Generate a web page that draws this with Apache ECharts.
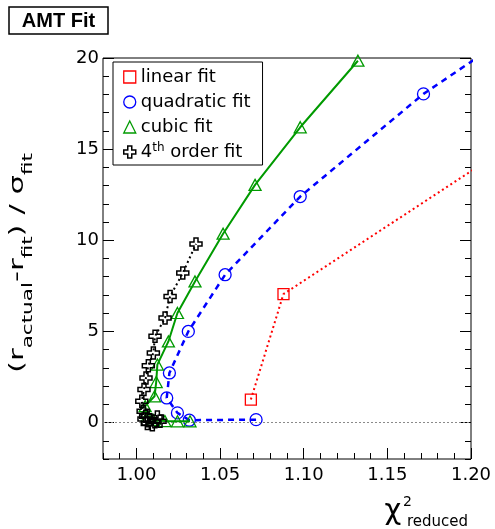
<!DOCTYPE html>
<html><head><meta charset="utf-8">
<script src="https://cdn.jsdelivr.net/npm/echarts@6/dist/echarts.min.js"></script>
<style>html,body{margin:0;padding:0;background:#fff}#c{width:495px;height:529px}</style>
</head><body><div id="c"></div>
<script>
// ---- data ----
const linearX = [1.0684, 1.0879, 1.2700];
const linearY = [1.26, 7.05, 18.0];
const quadX = [1.0715, 1.0316, 1.0245, 1.0181, 1.0197, 1.0310, 1.0530, 1.0979, 1.1716, 1.2500];
const quadY = [0.16, 0.13, 0.53, 1.35, 2.72, 5.00, 8.11, 12.40, 18.03, 22.9];
const cubicX = [1.0320, 1.0245, 1.0170, 1.0100, 1.0065, 1.0052, 1.0108, 1.0118, 1.0125, 1.0191, 1.0245, 1.0350, 1.0518, 1.0709, 1.0979, 1.1324];
const cubicY = [0.07, 0.07, 0.08, 0.15, 0.35, 0.90, 1.44, 2.22, 3.18, 4.45, 6.01, 7.74, 10.36, 13.04, 16.20, 19.85];
const quartX = [1.0141, 1.0125, 1.0110, 1.0095, 1.0080, 1.0065, 1.0055, 1.0045, 1.0040, 1.0032, 1.0045, 1.0057, 1.0071, 1.0101, 1.0111, 1.0171, 1.0201, 1.0277, 1.0356];
const quartY = [0.07, 0.30, 0.05, -0.12, 0.15, -0.05, 0.35, 0.20, 0.62, 1.17, 1.81, 2.45, 3.12, 3.82, 4.73, 5.74, 6.92, 8.20, 9.80];
const seriesNames = ['linear fit', 'quadratic fit', 'cubic fit', '4th order fit'];
const xMajorTicks = [1.00, 1.05, 1.10, 1.15, 1.20];
const xMinorTicks = [0.98, 0.99, 1.00, 1.01, 1.02, 1.03, 1.04, 1.05, 1.06, 1.07, 1.08, 1.09, 1.10, 1.11, 1.12, 1.13, 1.14, 1.15, 1.16, 1.17, 1.18, 1.19, 1.20];
const yMajorTicks = [0, 5, 10, 15, 20];
const yMinorTicks = [-2, -1, 0, 1, 2, 3, 4, 5, 6, 7, 8, 9, 10, 11, 12, 13, 14, 15, 16, 17, 18, 19, 20];
const titleText = 'AMT Fit';

// ---- styling ----
const FONT = '"DejaVu Sans", sans-serif';
const RED = '#ff0000', BLUE = '#0000ff', GREEN = '#009a00', BLACK = '#000000';
const CROSS = 'path://M4,0 L8,0 L8,4 L12,4 L12,8 L8,8 L8,12 L4,12 L4,8 L0,8 L0,4 L4,4 Z';

function zip(xs, ys) { return xs.map((x, i) => [x, ys[i]]); }

const chart = echarts.init(document.getElementById('c'), null, {renderer: 'canvas'});

function xAx(extra) {
  return Object.assign({type: 'value', min: 0.98, max: 1.20, position: 'bottom',
    axisLine: {show: false, onZero: false}, splitLine: {show: false},
    axisLabel: {show: false}, axisTick: {show: false}}, extra);
}
function yAx(pos, extra) {
  return Object.assign({type: 'value', min: -2, max: 20, position: pos,
    axisLine: {show: false, onZero: false}, splitLine: {show: false},
    axisLabel: {show: false}, axisTick: {show: false}}, extra);
}
const tickLine = {color: '#000', width: 1};

function lineSeries(name, xs, ys, symbol, size, color, lType, lWidth, z, bw) {
  return {
    name, type: 'line', data: zip(xs, ys), xAxisIndex: 0, yAxisIndex: 0,
    symbol, symbolSize: size, showSymbol: true, showAllSymbol: true,
    itemStyle: {color: 'rgba(0,0,0,0)', borderColor: color, borderWidth: bw},
    lineStyle: {color, type: lType, width: lWidth},
    clip: true, animation: false, silent: true, z
  };
}

const series = [
  lineSeries(seriesNames[0], linearX, linearY, 'rect', 11, RED, [2, 3], 2, 3, 1.3),
  lineSeries(seriesNames[1], quadX, quadY, 'circle', 12, BLUE, [6, 5], 2.5, 4, 1.3),
  lineSeries(seriesNames[2], cubicX, cubicY, 'triangle', [12, 11], GREEN, 'solid', 2, 5, 1.3),
  lineSeries(seriesNames[3], quartX, quartY, CROSS, 12, BLACK, [2, 3], 2, 6, 1.5)
];
series[0].markLine = {
  silent: true, symbol: ['none', 'none'], label: {show: false}, animation: false,
  lineStyle: {color: '#8a8a8a', type: [2, 2], width: 1.2},
  data: [{yAxis: 0}]
};

// text width helper for composed titles
const mctx = document.createElement('canvas').getContext('2d');
function tw(t, size) { mctx.font = size + 'px "DejaVu Sans"'; return mctx.measureText(t).width; }

// y-axis title pieces: main / subscript
const yParts = [['(r', 0], ['actual', 1], ['-r', 0], ['fit', 1], [') / \u03c3', 0], ['fit', 1]];
const MAIN = 20, SUB = 14;
let cx = 0;
const yChildren = yParts.map(([t, sub]) => {
  const s = sub ? SUB : MAIN;
  const el = {type: 'text', x: cx, y: sub ? 8 - 0.35 * SUB : -0.35 * MAIN,
    style: {text: t, fontSize: s, fontFamily: FONT, fill: '#000', align: 'left', verticalAlign: 'middle'}};
  cx += tw(t, s);
  return el;
});
const yScale = 220 / cx;

const option = {
  backgroundColor: '#fff',
  animation: false,
  grid: {left: 103, top: 58, right: 24, bottom: 70, show: true, borderColor: '#000', borderWidth: 1,
    backgroundColor: 'transparent', containLabel: false, outerBoundsMode: 'none'},
  xAxis: [
    xAx({axisTick: {show: true, inside: true, length: 11, customValues: xMajorTicks, lineStyle: tickLine},
      axisLabel: {show: true, customValues: xMajorTicks, formatter: v => Number(v).toFixed(2), margin: 7,
        fontSize: 18, fontFamily: FONT, color: '#000'}}),
    xAx({axisTick: {show: true, inside: true, length: 6, customValues: xMinorTicks, lineStyle: tickLine}})
  ],
  yAxis: [
    yAx('left', {axisTick: {show: true, inside: true, length: 11, customValues: yMajorTicks, lineStyle: tickLine},
      axisLabel: {show: true, customValues: yMajorTicks, margin: 4, fontSize: 18, fontFamily: FONT, color: '#000'}}),
    yAx('left', {axisTick: {show: true, inside: true, length: 6, customValues: yMinorTicks, lineStyle: tickLine}}),
    yAx('right', {axisTick: {show: true, inside: true, length: 11, customValues: yMajorTicks, lineStyle: tickLine}}),
    yAx('right', {axisTick: {show: true, inside: true, length: 6, customValues: yMinorTicks, lineStyle: tickLine}})
  ],
  legend: {
    orient: 'vertical', left: 113, top: 62, padding: [5, 12, 3, 10],
    itemWidth: 12, itemHeight: 12, itemGap: 5,
    borderColor: '#000', borderWidth: 1, backgroundColor: '#fff',
    selectedMode: false,
    textStyle: {fontSize: 18, fontFamily: FONT, color: '#000', lineHeight: 20, padding: [0, 0, 0, 0],
      rich: {sup: {fontSize: 12, fontFamily: FONT, color: '#000', verticalAlign: 'top', lineHeight: 8}}},
    formatter: n => n === seriesNames[3] ? '4{sup|th} order fit' : n,
    data: [
      {name: seriesNames[0], icon: 'rect', itemStyle: {color: 'rgba(0,0,0,0)', borderColor: RED, borderWidth: 1.3}},
      {name: seriesNames[1], icon: 'circle', itemStyle: {color: 'rgba(0,0,0,0)', borderColor: BLUE, borderWidth: 1.3}},
      {name: seriesNames[2], icon: 'triangle', itemStyle: {color: 'rgba(0,0,0,0)', borderColor: GREEN, borderWidth: 1.3}},
      {name: seriesNames[3], icon: CROSS, itemStyle: {color: 'rgba(0,0,0,0)', borderColor: BLACK, borderWidth: 1.5}}
    ]
  },
  graphic: [
    {type: 'rect', shape: {x: 9, y: 7, width: 99, height: 27}, style: {fill: '#fff', stroke: '#000', lineWidth: 1.5}},
    {type: 'text', x: 58.5, y: 21.5, style: {text: titleText, fontSize: 20, fontWeight: 'bold',
      fontFamily: '"Liberation Sans", Arial, sans-serif', fill: '#000', align: 'center', verticalAlign: 'middle'}},
    {type: 'group', x: 25, y: 373, rotation: Math.PI / 2, scaleX: yScale, children: yChildren},
    {type: 'text', x: 393, y: 511.5, style: {text: '\u03c7', fontSize: 29, fontFamily: FONT, fill: '#000', align: 'center', verticalAlign: 'middle'}},
    {type: 'text', x: 403, y: 502.3, style: {text: '2', fontSize: 14, fontFamily: FONT, fill: '#000', align: 'left', verticalAlign: 'middle'}},
    {type: 'text', x: 407, y: 522.3, style: {text: 'reduced', fontSize: 15, fontFamily: FONT, fill: '#000', align: 'left', verticalAlign: 'middle'}}
  ],
  series
};
chart.setOption(option);
</script>
</body></html>
